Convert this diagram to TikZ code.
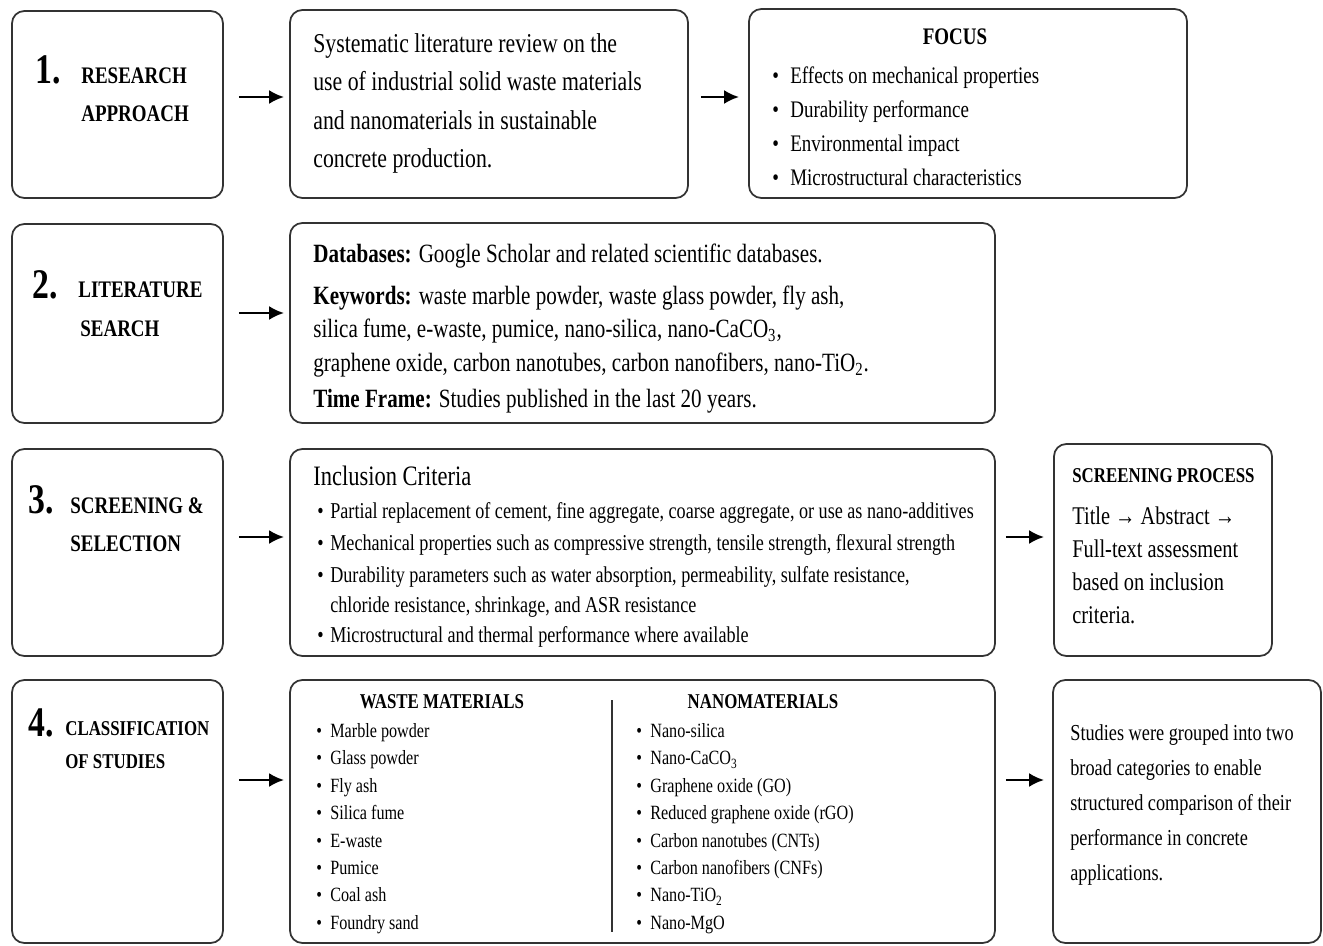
\documentclass[tikz,border=0pt]{standalone}
\usepackage{fontspec}
\setmainfont{Liberation Serif}[FakeStretch=0.8]
\usetikzlibrary{arrows.meta,fit}

\tikzset{
  stagebox/.style={draw=black!80, line width=1pt, rounded corners=7pt, inner sep=0pt},
  txt/.style={anchor=west, inner sep=0pt, text height=0.95em, text depth=0.1em},
  numtxt/.style={anchor=base west, inner sep=0pt, font=\fontsize{24}{24}\selectfont\bfseries},
  headtxt/.style={anchor=base west, inner sep=0pt, font=\fontsize{13.5}{16}\selectfont\bfseries},
  flowarrow/.style={-{Latex[length=3mm,width=2.8mm]}, line width=1.5pt, black}
}

\begin{document}
\begin{tikzpicture}[x=0.02cm, y=-0.02cm]
\fill[white] (0,0) rectangle (1323,946);

% boxes
\node[stagebox, fit={(12,11) (223,198)}] (s1) {};
\node[stagebox, fit={(290,10) (688,198)}] (d1) {};
\node[stagebox, fit={(749,9) (1187,198)}] (f1) {};
\node[stagebox, fit={(12,224) (223,423)}] (s2) {};
\node[stagebox, fit={(290,223) (995,423)}] (d2) {};
\node[stagebox, fit={(12,449) (223,656)}] (s3) {};
\node[stagebox, fit={(290,449) (995,656)}] (d3) {};
\node[stagebox, fit={(1054,444) (1272,656)}] (f3) {};
\node[stagebox, fit={(12,680) (223,943)}] (s4) {};
\node[stagebox, fit={(290,680) (995,943)}] (d4) {};
\node[stagebox, fit={(1053,680) (1321,943)}] (f4) {};

% arrows
\coordinate (r1) at (0,97);
\coordinate (r2) at (0,313);
\coordinate (r3) at (0,537);
\coordinate (r4) at (0,780);
\draw[flowarrow, shorten <=0.3cm, shorten >=0.1cm] (s1.east |- r1) -- (d1.west |- r1);
\draw[flowarrow, shorten <=0.24cm, shorten >=0.18cm] (d1.east |- r1) -- (f1.west |- r1);
\draw[flowarrow, shorten <=0.3cm, shorten >=0.1cm] (s2.east |- r2) -- (d2.west |- r2);
\draw[flowarrow, shorten <=0.3cm, shorten >=0.1cm] (s3.east |- r3) -- (d3.west |- r3);
\draw[flowarrow, shorten <=0.2cm, shorten >=0.18cm] (d3.east |- r3) -- (f3.west |- r3);
\draw[flowarrow, shorten <=0.3cm, shorten >=0.1cm] (s4.east |- r4) -- (d4.west |- r4);
\draw[flowarrow, shorten <=0.2cm, shorten >=0.16cm] (d4.east |- r4) -- (f4.west |- r4);

% step 1
\node[numtxt] (n1) at (35,84) {1.};
\node[headtxt] (h1a) at (81,84) {RESEARCH};
\node[headtxt] (h1b) at (81,122) {APPROACH};
\foreach \t/\y [count=\i] in {Systematic literature review on the/45, use of industrial solid waste materials/83,
    and nanomaterials in sustainable/122, concrete production./160}
  \node[txt, font=\fontsize{15.5}{18}\selectfont] (d1l\i) at (313,\y) {\t};
\node[headtxt, anchor=center] (f1h) at (955,37) {FOCUS};
\foreach \t [count=\i] in {Effects on mechanical properties, Durability performance,
    Environmental impact, Microstructural characteristics}
  \node[txt, font=\fontsize{13.5}{16}\selectfont] (f1l\i) at (772,42+34*\i) {\makebox[0.36cm][l]{\textbullet}\t};

% step 2
\node[numtxt] (n2) at (32,298) {2.};
\node[headtxt] (h2a) at (78,297) {LITERATURE};
\node[headtxt] (h2b) at (80,336) {SEARCH};
\node[txt, font=\fontsize{15}{18}\selectfont] (d2l1) at (313,255) {\textbf{Databases:} Google Scholar and related scientific databases.};
\node[txt, font=\fontsize{15}{18}\selectfont] (d2l2) at (313,297) {\textbf{Keywords:} waste marble powder, waste glass powder, fly ash,};
\node[txt, font=\fontsize{15}{18}\selectfont] (d2l3) at (313,330) {silica fume, e-waste, pumice, nano-silica, nano-CaCO\textsubscript{3},};
\node[txt, font=\fontsize{15}{18}\selectfont] (d2l4) at (313,364) {graphene oxide, carbon nanotubes, carbon nanofibers, nano-TiO\textsubscript{2}.};
\node[txt, font=\fontsize{15}{18}\selectfont] (d2l5) at (313,400) {\textbf{Time Frame:} Studies published in the last 20 years.};

% step 3
\node[numtxt] (n3) at (28,513) {3.};
\node[headtxt] (h3a) at (70,513) {SCREENING \&};
\node[headtxt] (h3b) at (70,551) {SELECTION};
\node[txt, font=\fontsize{16}{18}\selectfont] (d3h) at (313,478) {Inclusion Criteria};
\foreach \t/\y [count=\i] in {{Partial replacement of cement, fine aggregate, coarse aggregate, or use as nano-additives}/511,
    {Mechanical properties such as compressive strength, tensile strength, flexural strength}/543,
    {Durability parameters such as water absorption, permeability, sulfate resistance,}/575,
    {Microstructural and thermal performance where available}/635}
  \node[txt, font=\fontsize{12.9}{15}\selectfont] (d3l\i) at (317,\y) {\makebox[0.26cm][l]{\textbullet}\t};
\node[txt, font=\fontsize{12.9}{15}\selectfont] (d3c) at (330,605) {chloride resistance, shrinkage, and ASR resistance};
\node[txt, font=\fontsize{12}{14}\selectfont\bfseries] (f3h) at (1072,475) {SCREENING PROCESS};
\foreach \t [count=\i] in {Title → Abstract →, Full-text assessment, based on inclusion, criteria.}
  \node[txt, font=\fontsize{14.5}{17}\selectfont] (f3l\i) at (1072,484+33*\i) {\t};

% step 4
\node[numtxt] (n4) at (28,736) {4.};
\node[headtxt, font=\fontsize{12}{14}\selectfont\bfseries] (h4a) at (65,735) {CLASSIFICATION};
\node[headtxt, font=\fontsize{12}{14}\selectfont\bfseries] (h4b) at (65,768) {OF STUDIES};
\node[txt, anchor=center, font=\fontsize{12}{14}\selectfont\bfseries] (wh) at (442,701) {WASTE MATERIALS};
\node[txt, anchor=center, font=\fontsize{12}{14}\selectfont\bfseries] (nh) at (763,701) {NANOMATERIALS};
\draw[black!80, line width=0.8pt] (612,700) -- (612,932);
\foreach \t [count=\i] in {Marble powder, Glass powder, Fly ash, Silica fume, E-waste, Pumice, Coal ash, Foundry sand}
  \node[txt, font=\fontsize{11.5}{14}\selectfont] (w\i) at (316,702.6+27.4*\i) {\makebox[0.28cm][l]{\textbullet}\t};
\foreach \t [count=\i] in {Nano-silica, Nano-CaCO\textsubscript{3}, Graphene oxide (GO), Reduced graphene oxide (rGO),
    Carbon nanotubes (CNTs), Carbon nanofibers (CNFs), Nano-TiO\textsubscript{2}, Nano-MgO}
  \node[txt, font=\fontsize{11.5}{14}\selectfont] (m\i) at (636,702.6+27.4*\i) {\makebox[0.28cm][l]{\textbullet}\t};
\foreach \t [count=\i] in {Studies were grouped into two, broad categories to enable, structured comparison of their,
    performance in concrete, applications.}
  \node[txt, font=\fontsize{13}{16}\selectfont] (f4l\i) at (1070,698+35*\i) {\t};
\end{tikzpicture}
\end{document}
